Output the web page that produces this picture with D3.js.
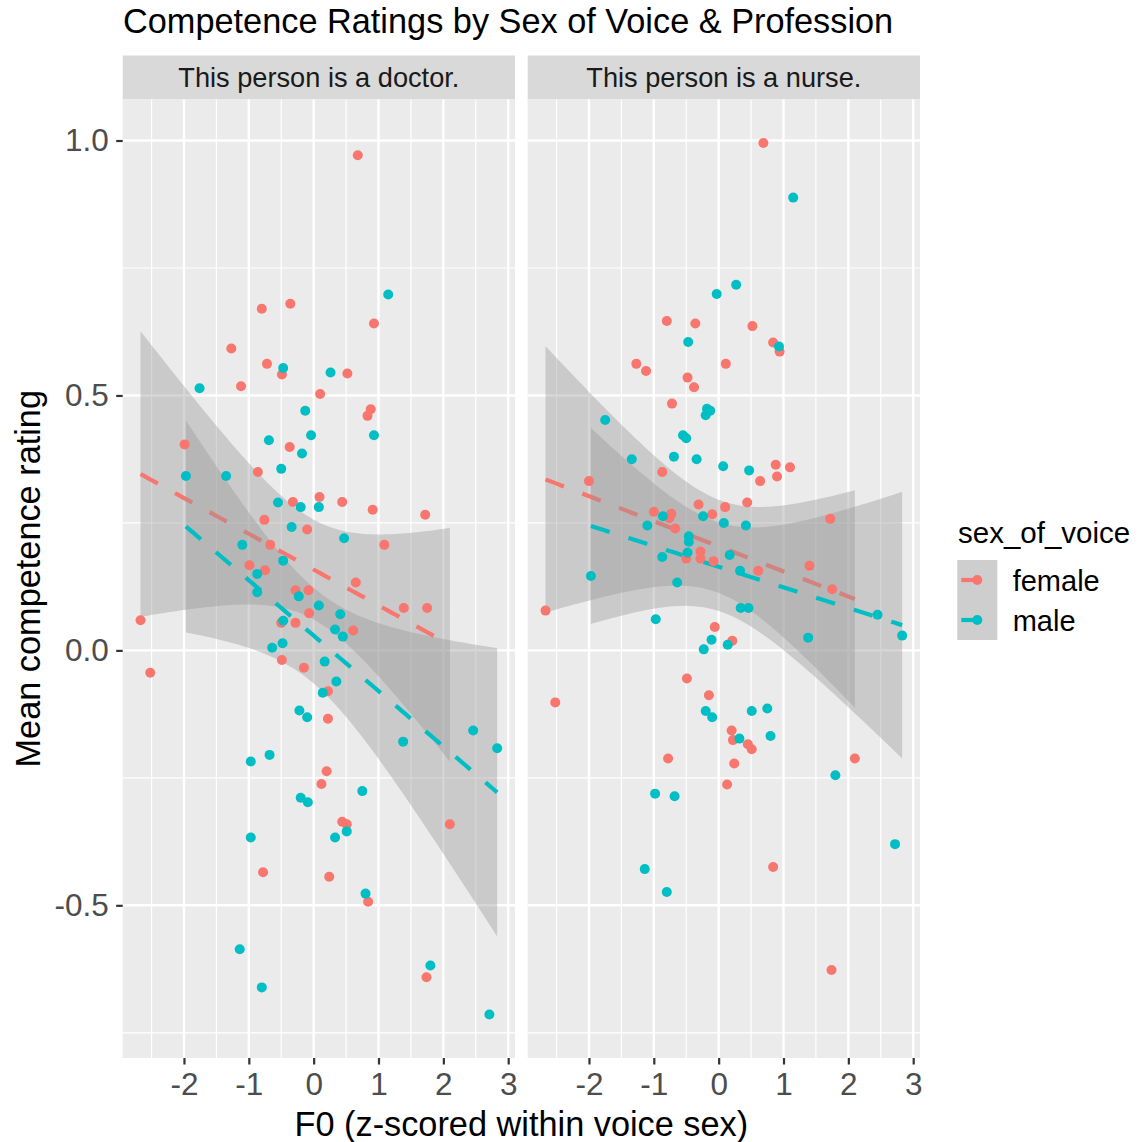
<!DOCTYPE html>
<html>
<head>
<meta charset="utf-8">
<script src="https://cdn.jsdelivr.net/npm/d3@7"></script>
<style>
body { margin: 0; background: #fff; }
text { font-family: "Liberation Sans", Arial, sans-serif; }
</style>
</head>
<body>
<div id="chart"></div>
<script>
const width = 1143, height = 1142;

const panelTitles = ["This person is a doctor.", "This person is a nurse."];
const sexes = ["female", "male"];
const sexColors = ["#F8766D", "#00BFC4"];
const xTicks = [-2, -1, 0, 1, 2, 3];
const xMinor = [-2.5, -1.5, -0.5, 0.5, 1.5, 2.5];
const yTicks = [-0.5, 0, 0.5, 1.0];
const yMinor = [-0.75, -0.25, 0.25, 0.75];

// [F0 z-score, mean competence rating]
const doctorFemale = [[0.68,0.971],[-0.36,0.680],[-0.80,0.670],[0.93,0.641],[-1.27,0.592],[-0.72,0.562],[-0.49,0.541],[0.52,0.543],[-1.12,0.518],[0.10,0.503],[0.88,0.473],[0.83,0.460],[-0.37,0.399],[-1.99,0.404],[-0.86,0.350],[0.09,0.301],[-0.32,0.291],[0.44,0.291],[0.91,0.276],[1.72,0.266],[-0.76,0.256],[-0.10,0.237],[1.09,0.207],[-0.67,0.207],[-0.99,0.167],[-0.75,0.157],[0.65,0.133],[-0.28,0.118],[-0.08,0.118],[1.39,0.083],[1.75,0.083],[-0.07,0.073],[-2.67,0.059],[-0.50,0.054],[-0.28,0.054],[0.61,0.039],[-0.49,-0.019],[-0.15,-0.034],[-2.52,-0.044],[0.22,-0.080],[0.22,-0.134],[0.20,-0.237],[0.12,-0.262],[0.44,-0.336],[0.51,-0.341],[2.10,-0.341],[-0.78,-0.435],[0.24,-0.444],[0.84,-0.493],[1.74,-0.641]];

const doctorMale = [[1.15,0.698],[-0.47,0.554],[0.26,0.545],[-1.76,0.514],[-0.13,0.470],[-0.04,0.422],[0.93,0.422],[-0.69,0.412],[-0.18,0.386],[-0.50,0.356],[-1.97,0.342],[-1.35,0.342],[-0.55,0.290],[-0.20,0.281],[0.08,0.281],[-0.34,0.242],[0.47,0.220],[-1.10,0.207],[-0.47,0.176],[-0.87,0.150],[-0.87,0.114],[-0.23,0.106],[0.08,0.088],[0.41,0.071],[-0.47,0.058],[0.33,0.041],[0.45,0.027],[-0.48,0.014],[-0.64,0.005],[0.17,-0.022],[0.35,-0.061],[0.14,-0.083],[-0.22,-0.118],[-0.10,-0.131],[2.46,-0.157],[1.38,-0.179],[2.83,-0.192],[-0.97,-0.218],[-0.68,-0.205],[0.75,-0.276],[-0.20,-0.289],[-0.09,-0.298],[0.51,-0.355],[0.33,-0.367],[-0.97,-0.367],[0.80,-0.477],[-1.14,-0.586],[1.80,-0.618],[-0.80,-0.661],[2.71,-0.714]];

const nurseFemale = [[0.69,0.995],[-0.80,0.646],[-0.36,0.641],[0.52,0.636],[0.84,0.604],[0.94,0.586],[-1.27,0.562],[-1.12,0.548],[0.11,0.562],[-0.48,0.535],[-0.38,0.516],[-0.72,0.484],[-0.87,0.350],[0.88,0.364],[1.10,0.359],[0.64,0.332],[0.90,0.341],[-2.00,0.332],[0.44,0.290],[-0.31,0.286],[0.10,0.281],[-1.00,0.272],[-0.73,0.268],[-0.76,0.259],[-0.10,0.267],[1.72,0.258],[-0.67,0.239],[-0.28,0.194],[-0.50,0.180],[-0.28,0.180],[-0.08,0.175],[1.40,0.166],[0.61,0.156],[1.75,0.120],[-2.67,0.078],[-0.06,0.046],[0.21,0.019],[-0.49,-0.055],[-0.15,-0.088],[-2.52,-0.102],[0.20,-0.157],[0.22,-0.176],[0.45,-0.184],[0.51,-0.194],[-0.78,-0.212],[0.24,-0.222],[2.10,-0.212],[0.13,-0.263],[0.84,-0.425],[1.74,-0.627]];

const nurseMale = [[1.15,0.888],[0.27,0.717],[-0.03,0.699],[0.93,0.596],[-0.47,0.605],[-0.18,0.474],[-0.13,0.470],[-0.20,0.461],[-1.75,0.452],[-0.55,0.422],[-0.50,0.416],[-1.34,0.375],[-0.69,0.380],[-0.34,0.375],[0.07,0.361],[0.47,0.353],[-0.86,0.263],[-0.24,0.263],[-1.10,0.245],[0.08,0.250],[0.42,0.245],[-0.46,0.224],[-0.46,0.213],[-0.48,0.192],[-0.87,0.183],[0.17,0.187],[0.33,0.156],[-1.97,0.146],[-0.64,0.133],[0.34,0.083],[0.46,0.083],[2.45,0.070],[2.83,0.029],[1.38,0.025],[-0.97,0.061],[-0.11,0.021],[0.14,0.011],[-0.23,0.002],[-0.20,-0.119],[-0.10,-0.131],[0.51,-0.119],[0.75,-0.114],[0.32,-0.173],[0.80,-0.168],[1.80,-0.245],[-0.98,-0.281],[-0.68,-0.286],[2.72,-0.380],[-1.14,-0.429],[-0.80,-0.474]];

const panelData = [[doctorFemale, doctorMale], [nurseFemale, nurseMale]];

// linear fit with 95% confidence band, like geom_smooth(method = "lm")
function lmBand(pts) {
    const n = pts.length;
    const mx = d3.mean(pts, d => d[0]), my = d3.mean(pts, d => d[1]);
    const sxx = d3.sum(pts, d => (d[0] - mx) ** 2);
    const sxy = d3.sum(pts, d => (d[0] - mx) * (d[1] - my));
    const b = sxy / sxx, a = my - b * mx;
    const s = Math.sqrt(d3.sum(pts, d => (d[1] - a - b * d[0]) ** 2) / (n - 2));
    const t = 2.0106; // qt(0.975, 48)
    const [x0, x1] = d3.extent(pts, d => d[0]);
    return d3.range(80).map(i => {
        const x = x0 + (x1 - x0) * i / 79;
        const y = a + b * x;
        const se = s * Math.sqrt(1 / n + (x - mx) ** 2 / sxx);
        return { x, y, lo: y - t * se, hi: y + t * se };
    });
}

const fits = panelData.map(groups => groups.map(lmBand));

// scales with ggplot-style 5% expansion
const allPts = panelData.flat(2);
const xExt = d3.extent(allPts, d => d[0]);
const xPad = (xExt[1] - xExt[0]) * 0.05;
const yVals = allPts.map(d => d[1]).concat(fits.flat(2).flatMap(d => [d.lo, d.hi]));
const yExt = d3.extent(yVals);
const yPad = (yExt[1] - yExt[0]) * 0.05;

const panelTop = 99.5, panelBottom = 1058, stripTop = 55.5;
const panelLeft = [122.7, 527.7], panelW = 392.3;

const y = d3.scaleLinear().domain([yExt[0] - yPad, yExt[1] + yPad]).range([panelBottom, panelTop]);
const xScales = panelLeft.map(l => d3.scaleLinear()
    .domain([xExt[0] - xPad, xExt[1] + xPad]).range([l, l + panelW]));

const svg = d3.select("#chart").append("svg")
    .attr("width", width)
    .attr("height", height);

svg.append("rect").attr("width", width).attr("height", height).attr("fill", "#fff");

// title
svg.append("text")
    .attr("x", 123).attr("y", 33)
    .attr("font-size", 34.3)
    .attr("fill", "#000")
    .text("Competence Ratings by Sex of Voice & Profession");

panelTitles.forEach((title, p) => {
    const x = xScales[p];
    const g = svg.append("g");
    const [l, r] = x.range();

    // strip
    g.append("rect")
        .attr("x", l).attr("y", stripTop)
        .attr("width", r - l).attr("height", panelTop - stripTop)
        .attr("fill", "#D9D9D9");
    g.append("text")
        .attr("x", (l + r) / 2).attr("y", 87)
        .attr("text-anchor", "middle")
        .attr("font-size", 27.2)
        .attr("fill", "#1A1A1A")
        .text(title);

    // panel background + grid
    g.append("rect")
        .attr("x", l).attr("y", panelTop)
        .attr("width", r - l).attr("height", panelBottom - panelTop)
        .attr("fill", "#EBEBEB");

    g.selectAll(".xminor").data(xMinor).enter().append("line")
        .attr("x1", d => x(d)).attr("x2", d => x(d))
        .attr("y1", panelTop).attr("y2", panelBottom)
        .attr("stroke", "#fff").attr("stroke-width", 1.2);
    g.selectAll(".yminor").data(yMinor).enter().append("line")
        .attr("x1", l).attr("x2", r)
        .attr("y1", d => y(d)).attr("y2", d => y(d))
        .attr("stroke", "#fff").attr("stroke-width", 1.2);
    g.selectAll(".xmajor").data(xTicks).enter().append("line")
        .attr("x1", d => x(d)).attr("x2", d => x(d))
        .attr("y1", panelTop).attr("y2", panelBottom)
        .attr("stroke", "#fff").attr("stroke-width", 2.4);
    g.selectAll(".ymajor").data(yTicks).enter().append("line")
        .attr("x1", l).attr("x2", r)
        .attr("y1", d => y(d)).attr("y2", d => y(d))
        .attr("stroke", "#fff").attr("stroke-width", 2.4);

    // smooths: ribbon then line, per group
    fits[p].forEach((band, s) => {
        g.append("path")
            .datum(band)
            .attr("d", d3.area().x(d => x(d.x)).y0(d => y(d.lo)).y1(d => y(d.hi)))
            .attr("fill", "#999999")
            .attr("fill-opacity", 0.4);
        g.append("path")
            .datum(band)
            .attr("d", d3.line().x(d => x(d.x)).y(d => y(d.y)))
            .attr("fill", "none")
            .attr("stroke", sexColors[s])
            .attr("stroke-width", 4.2)
            .attr("stroke-dasharray", "19.7,19.7");
    });

    // points
    panelData[p].forEach((pts, s) => {
        g.selectAll(".pt" + s).data(pts).enter().append("circle")
            .attr("cx", d => x(d[0]))
            .attr("cy", d => y(d[1]))
            .attr("r", 5)
            .attr("fill", sexColors[s]);
    });

    // x axis
    const xAxis = g.append("g")
        .attr("transform", `translate(0,${panelBottom})`)
        .call(d3.axisBottom(x).tickValues(xTicks).tickFormat(d => String(d)).tickSize(6.5).tickPadding(8.5));
    xAxis.select(".domain").remove();
    xAxis.selectAll("line").attr("stroke", "#333333").attr("stroke-width", 2.2);
    xAxis.selectAll("text").attr("font-size", 31.5).attr("fill", "#4D4D4D")
        .attr("font-family", '"Liberation Sans", Arial, sans-serif');
});

// y axis (left panel only)
const yAxis = svg.append("g")
    .attr("transform", `translate(${panelLeft[0]},0)`)
    .call(d3.axisLeft(y).tickValues(yTicks).tickFormat(d => d.toFixed(1)).tickSize(6.5).tickPadding(7.5));
yAxis.select(".domain").remove();
yAxis.selectAll("line").attr("stroke", "#333333").attr("stroke-width", 2.2);
yAxis.selectAll("text").attr("font-size", 31.5).attr("fill", "#4D4D4D")
    .attr("font-family", '"Liberation Sans", Arial, sans-serif');

// axis titles
svg.append("text")
    .attr("x", (panelLeft[0] + panelLeft[1] + panelW) / 2).attr("y", 1136)
    .attr("text-anchor", "middle")
    .attr("font-size", 34.3)
    .text("F0 (z-scored within voice sex)");
svg.append("text")
    .attr("transform", `translate(40,${(panelTop + panelBottom) / 2}) rotate(-90)`)
    .attr("text-anchor", "middle")
    .attr("font-size", 34.3)
    .text("Mean competence rating");

// legend
const legend = svg.append("g");
legend.append("text")
    .attr("x", 958).attr("y", 543)
    .attr("font-size", 29.5)
    .text("sex_of_voice");
sexes.forEach((sex, i) => {
    const ky = 560 + i * 40;
    legend.append("rect")
        .attr("x", 957.3).attr("y", ky).attr("width", 40).attr("height", 40)
        .attr("fill", "#F2F2F2");
    legend.append("rect")
        .attr("x", 957.3).attr("y", ky).attr("width", 40).attr("height", 40)
        .attr("fill", "#999999").attr("fill-opacity", 0.4);
    legend.append("line")
        .attr("x1", 961.3).attr("x2", 993.3)
        .attr("y1", ky + 20).attr("y2", ky + 20)
        .attr("stroke", sexColors[i]).attr("stroke-width", 4.2)
        .attr("stroke-dasharray", "17,19.7");
    legend.append("circle")
        .attr("cx", 977.3).attr("cy", ky + 20).attr("r", 5)
        .attr("fill", sexColors[i]);
    legend.append("text")
        .attr("x", 1012.7).attr("y", ky + 30.5)
        .attr("font-size", 29)
        .text(sex);
});
</script>
</body>
</html>
